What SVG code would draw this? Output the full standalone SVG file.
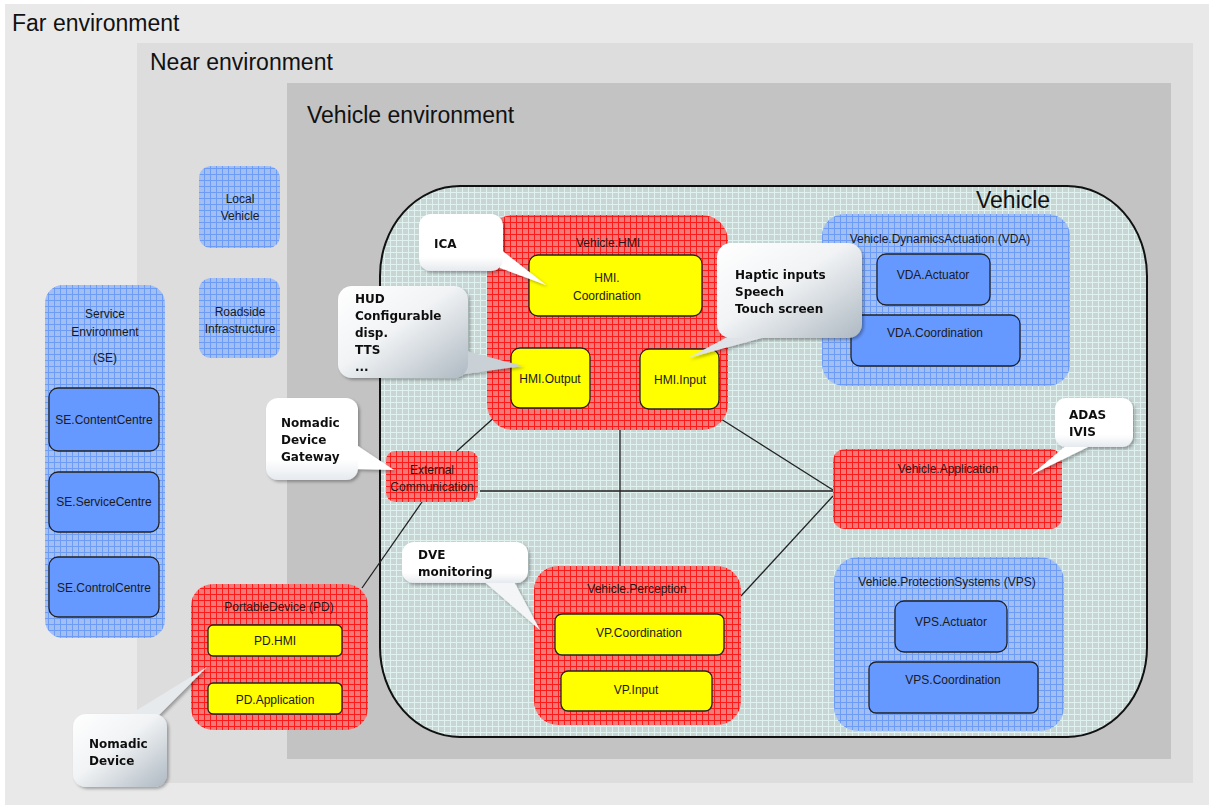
<svg xmlns="http://www.w3.org/2000/svg" width="1211" height="805" viewBox="0 0 1211 805">
  <style>
    .env { font-family: "Liberation Sans", Arial, sans-serif; fill: #111; }
    .lbl { font-family: "Liberation Sans", Arial, sans-serif; font-size: 12px; fill: #1a1a1a; text-anchor: middle; }
    .note { font-family: "DejaVu Sans", Verdana, sans-serif; font-size: 12px; font-weight: bold; fill: #111; }
    .red { fill: url(#redGrid); }
    .blue { fill: url(#blueGrid); }
    .yel { fill: #ffff00; stroke: #222; stroke-width: 1.3; }
    .blk { fill: #6699ff; stroke: #222; stroke-width: 1.3; }
    .wire { stroke: #222; stroke-width: 1.3; fill: none; }
  </style>
  <defs>
    <pattern id="redGrid" width="6" height="6" patternUnits="userSpaceOnUse">
      <rect width="6" height="6" fill="#ef7a7a"/>
      <path d="M0 0.5H6M0.5 0V6" stroke="#ff1a1a" stroke-width="1"/>
    </pattern>
    <pattern id="blueGrid" width="6" height="6" patternUnits="userSpaceOnUse">
      <rect width="6" height="6" fill="#a3bff2"/>
      <path d="M0 0.5H6M0.5 0V6" stroke="#6d9cf6" stroke-width="1"/>
    </pattern>
    <pattern id="vehGrid" width="6" height="6" patternUnits="userSpaceOnUse">
      <rect width="6" height="6" fill="#c9d5d3"/>
      <path d="M0 0.5H6M0.5 0V6" stroke="#dff2f0" stroke-width="1"/>
    </pattern>
    <linearGradient id="noteGrad" x1="0" y1="0" x2="1" y2="1">
      <stop offset="0" stop-color="#ffffff"/>
      <stop offset="0.45" stop-color="#f1f3f5"/>
      <stop offset="1" stop-color="#aeb9c2"/>
    </linearGradient>
    <linearGradient id="noteWhite" x1="0" y1="0" x2="0" y2="1">
      <stop offset="0" stop-color="#ffffff"/>
      <stop offset="0.75" stop-color="#ffffff"/>
      <stop offset="1" stop-color="#e6eaee"/>
    </linearGradient>
    <filter id="shadow" x="-20%" y="-20%" width="140%" height="140%">
      <feDropShadow dx="2" dy="2" stdDeviation="1.8" flood-color="#000" flood-opacity="0.3"/>
    </filter>
  </defs>

  <!-- environment layers -->
  <rect x="0" y="0" width="1211" height="805" fill="#ffffff"/>
  <rect x="5" y="4" width="1204" height="801" fill="#e9e9e9"/>
  <rect x="137" y="43" width="1056" height="740" fill="#dddddd"/>
  <rect x="287" y="83" width="884" height="676" fill="#c3c3c3"/>
  <text class="env" x="12" y="31" font-size="23">Far environment</text>
  <text class="env" x="150" y="70" font-size="23">Near environment</text>
  <text class="env" x="307" y="123" font-size="23">Vehicle environment</text>

  <!-- vehicle boundary -->
  <g id="vehicle">
    <rect x="380" y="186" width="767" height="551" rx="80" ry="90" fill="url(#vehGrid)" stroke="#111" stroke-width="2"/>
    <text class="env" x="976" y="208" font-size="23">Vehicle</text>
  </g>

  <!-- connectors -->
  <g id="connectors">
    <line class="wire" x1="497" y1="415" x2="457" y2="451"/>
    <line class="wire" x1="422" y1="502" x2="362" y2="588"/>
    <line class="wire" x1="480" y1="491" x2="833" y2="491"/>
    <line class="wire" x1="620" y1="430" x2="620" y2="566"/>
    <line class="wire" x1="721" y1="419" x2="833" y2="490"/>
    <line class="wire" x1="741" y1="596" x2="833" y2="496"/>
  </g>

  <!-- near environment nodes -->
  <g id="local-vehicle">
    <rect class="blue" x="199" y="166" width="81" height="82" rx="12"/>
    <text class="lbl" x="240" y="203">Local</text>
    <text class="lbl" x="240" y="220">Vehicle</text>
  </g>
  <g id="roadside-infrastructure">
    <rect class="blue" x="199" y="278" width="81" height="80" rx="12"/>
    <text class="lbl" x="240" y="316">Roadside</text>
    <text class="lbl" x="240" y="333">Infrastructure</text>
  </g>

  <!-- far environment: service environment -->
  <g id="service-environment">
    <rect class="blue" x="45" y="285" width="120" height="353" rx="18"/>
    <text class="lbl" x="105" y="318">Service</text>
    <text class="lbl" x="105" y="336">Environment</text>
    <text class="lbl" x="105" y="362">(SE)</text>
  </g>
  <g id="se-contentcentre">
    <rect class="blk" x="49" y="388" width="110" height="63" rx="9"/>
    <text class="lbl" x="104" y="424">SE.ContentCentre</text>
  </g>
  <g id="se-servicecentre">
    <rect class="blk" x="49" y="472" width="110" height="60" rx="9"/>
    <text class="lbl" x="104" y="506">SE.ServiceCentre</text>
  </g>
  <g id="se-controlcentre">
    <rect class="blk" x="49" y="557" width="110" height="60" rx="9"/>
    <text class="lbl" x="104" y="592">SE.ControlCentre</text>
  </g>

  <!-- Vehicle.HMI -->
  <g id="vehicle-hmi">
    <rect class="red" x="487" y="215" width="241" height="215" rx="26"/>
    <text class="lbl" x="608" y="247">Vehicle.HMI</text>
  </g>
  <g id="hmi-coordination">
    <rect class="yel" x="529" y="255" width="173" height="61" rx="9"/>
    <text class="lbl" x="607" y="282">HMI.</text>
    <text class="lbl" x="607" y="300">Coordination</text>
  </g>
  <g id="hmi-output">
    <rect class="yel" x="511" y="348" width="79" height="60" rx="9"/>
    <text class="lbl" x="550" y="383">HMI.Output</text>
  </g>
  <g id="hmi-input">
    <rect class="yel" x="640" y="349" width="79" height="60" rx="9"/>
    <text class="lbl" x="680" y="384">HMI.Input</text>
  </g>

  <!-- Vehicle.DynamicsActuation -->
  <g id="vehicle-dynamics-actuation">
    <rect class="blue" x="822" y="214" width="248" height="172" rx="22"/>
    <text class="lbl" x="940" y="243">Vehicle.DynamicsActuation (VDA)</text>
  </g>
  <g id="vda-actuator">
    <rect class="blk" x="877" y="254" width="113" height="51" rx="9"/>
    <text class="lbl" x="933" y="279">VDA.Actuator</text>
  </g>
  <g id="vda-coordination">
    <rect class="blk" x="851" y="315" width="169" height="51" rx="9"/>
    <text class="lbl" x="935" y="337">VDA.Coordination</text>
  </g>

  <!-- External communication -->
  <g id="external-communication">
    <rect class="red" x="386" y="451" width="92" height="51" rx="9"/>
    <text class="lbl" x="432" y="474">External</text>
    <text class="lbl" x="432" y="491">Communication</text>
  </g>

  <!-- Vehicle.Application -->
  <g id="vehicle-application">
    <rect class="red" x="833" y="449" width="229" height="80" rx="12"/>
    <text class="lbl" x="948" y="473">Vehicle.Application</text>
  </g>

  <!-- Vehicle.Perception -->
  <g id="vehicle-perception">
    <rect class="red" x="534" y="566" width="207" height="159" rx="24"/>
    <text class="lbl" x="637" y="593">Vehicle.Perception</text>
  </g>
  <g id="vp-coordination">
    <rect class="yel" x="555" y="614" width="169" height="41" rx="7"/>
    <text class="lbl" x="639" y="637">VP.Coordination</text>
  </g>
  <g id="vp-input">
    <rect class="yel" x="561" y="671" width="151" height="40" rx="7"/>
    <text class="lbl" x="636" y="694">VP.Input</text>
  </g>

  <!-- Vehicle.ProtectionSystems -->
  <g id="vehicle-protection-systems">
    <rect class="blue" x="834" y="557" width="230" height="174" rx="24"/>
    <text class="lbl" x="947" y="586">Vehicle.ProtectionSystems (VPS)</text>
  </g>
  <g id="vps-actuator">
    <rect class="blk" x="895" y="601" width="112" height="51" rx="9"/>
    <text class="lbl" x="951" y="626">VPS.Actuator</text>
  </g>
  <g id="vps-coordination">
    <rect class="blk" x="869" y="662" width="169" height="51" rx="7"/>
    <text class="lbl" x="953" y="684">VPS.Coordination</text>
  </g>

  <!-- Portable device -->
  <g id="portable-device">
    <rect class="red" x="191" y="584" width="177" height="146" rx="22"/>
    <text class="lbl" x="279" y="611">PortableDevice (PD)</text>
  </g>
  <g id="pd-hmi">
    <rect class="yel" x="208" y="625" width="134" height="31" rx="5"/>
    <text class="lbl" x="275" y="645">PD.HMI</text>
  </g>
  <g id="pd-application">
    <rect class="yel" x="208" y="683" width="134" height="31" rx="5"/>
    <text class="lbl" x="275" y="704">PD.Application</text>
  </g>

  <!-- callouts -->
  <g id="note-ica" filter="url(#shadow)">
    <polygon points="500,249 500,268 546,285" fill="#ffffff"/>
    <rect x="419" y="214" width="84" height="57" rx="12" fill="url(#noteWhite)"/>
    <text class="note" x="434" y="248">ICA</text>
  </g>
  <g id="note-hud" filter="url(#shadow)">
    <polygon points="462,350 458,375 523,366" fill="#c9d0d6"/>
    <rect x="338" y="286" width="130" height="92" rx="14" fill="url(#noteGrad)"/>
    <text class="note" x="355" y="303">HUD</text>
    <text class="note" x="355" y="320">Configurable</text>
    <text class="note" x="355" y="337">disp.</text>
    <text class="note" x="355" y="354">TTS</text>
    <text class="note" x="355" y="371">...</text>
  </g>
  <g id="note-haptic" filter="url(#shadow)">
    <polygon points="733,334 776,334 688,358" fill="#dfe3e7"/>
    <rect x="717" y="243" width="145" height="95" rx="14" fill="url(#noteGrad)"/>
    <text class="note" x="735" y="279">Haptic inputs</text>
    <text class="note" x="735" y="296">Speech</text>
    <text class="note" x="735" y="313">Touch screen</text>
  </g>
  <g id="note-gateway" filter="url(#shadow)">
    <polygon points="355,444 355,469 394,470" fill="#ffffff"/>
    <rect x="266" y="398" width="92" height="82" rx="12" fill="url(#noteWhite)"/>
    <text class="note" x="281" y="427">Nomadic</text>
    <text class="note" x="281" y="444">Device</text>
    <text class="note" x="281" y="461">Gateway</text>
  </g>
  <g id="note-adas" filter="url(#shadow)">
    <polygon points="1068,444 1094,444 1031,475" fill="#ffffff"/>
    <rect x="1055" y="398" width="78" height="49" rx="11" fill="url(#noteWhite)"/>
    <text class="note" x="1069" y="419">ADAS</text>
    <text class="note" x="1069" y="436">IVIS</text>
  </g>
  <g id="note-dve" filter="url(#shadow)">
    <polygon points="480,578 512,578 540,630" fill="#f3f5f7"/>
    <rect x="402" y="542" width="126" height="41" rx="12" fill="url(#noteWhite)"/>
    <text class="note" x="418" y="559">DVE</text>
    <text class="note" x="418" y="576">monitoring</text>
  </g>
  <g id="note-nomadic-device" filter="url(#shadow)">
    <polygon points="124,718 156,718 207,667" fill="#e7eaed"/>
    <rect x="73" y="714" width="94" height="73" rx="13" fill="url(#noteGrad)"/>
    <text class="note" x="89" y="748">Nomadic</text>
    <text class="note" x="89" y="765">Device</text>
  </g>
</svg>
